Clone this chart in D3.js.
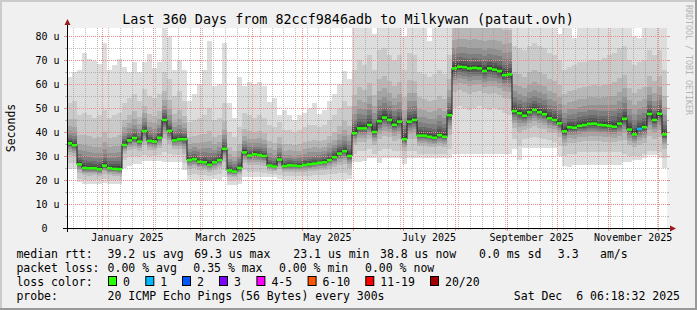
<!DOCTYPE html>
<html><head><meta charset="utf-8">
<script src="https://cdn.jsdelivr.net/npm/d3@7"></script>
<style>
html,body{margin:0;padding:0;background:#f0f0f0;}
svg{display:block;}
text{font-family:"DejaVu Sans Mono",monospace;white-space:pre;}
</style></head><body>
<svg id="c" width="697" height="310"></svg>
<script>
// ---------------- DATA ----------------
const titleText = "Last 360 Days from 82ccf9846adb to Milkywan (pataut.ovh)";
const startTime = "2024-12-11T06:18:32Z";
const spanDays = 360;
const stepDays = 3;            // one column = 3 days
const yMax = 250/3;            // 83.33 u at top of canvas

// median rtt per column (u = microseconds)
const median = [35.3,34.5,26.5,25.0,24.9,24.9,24.5,26.0,24.9,24.6,
 24.5,34.6,36.5,37.5,36.0,40.4,36.3,36.0,37.6,45.0,
 40.5,36.5,37.0,37.0,28.3,28.7,27.6,27.4,26.3,27.4,
 28.3,33.0,24.0,23.5,25.0,31.5,30.2,30.7,30.4,30.0,
 26.0,25.6,28.5,25.8,26.1,26.0,25.8,26.3,26.6,26.8,
 27.2,27.4,28.3,29.5,31.0,32.0,30.0,39.5,41.5,41.5,
 42.9,40.0,44.5,46.0,45.0,43.0,44.3,37.0,44.3,45.0,
 38.5,38.5,38.0,37.6,38.7,38.0,47.0,66.5,67.2,67.0,
 66.5,66.7,66.5,65.4,66.5,66.0,65.4,63.7,64.0,48.7,
 47.8,46.8,48.2,49.2,48.2,47.4,45.7,45.0,43.6,40.3,
 42.0,41.8,42.6,42.9,43.4,43.5,43.0,42.8,42.5,42.2,
 43.5,45.5,41.0,39.0,41.3,42.0,47.5,45.0,47.6,39.0];
// slowest ping (top of lightest smoke)
const pingMax = [63,65,66,73,70.5,69.5,68.5,77,66,68,
 70.5,67,65,69,65,69,72.5,66.5,69,84,
 80,66,70,66,53,56,60,66,78,59,
 60,77,52,46,63,59,61,60,61,59,
 52.5,54,47,49,47,45,47,48,50,52,
 47.5,49,53,56,60,65.5,62,90,90,90,
 90,81,90,90,90,90,90,80,90,90,
 90,90,78,90,90,90,90,90,90,90,
 90,90,90,90,90,90,90,90,90,90,
 90,90,90,90,90,90,90,90,81,90,
 90,79,90,90,90,90,90,90,90,90,
 90,90,90,80,79,90,90,90,90,90];
// second slowest ping
const pingHi = [52,53,47,48,47,46,47,49,46,47,
 48,52,54,56,53,58,55,54,56,65,
 62,55,57,53,44,45,46,47,50,45,
 46,52,40,38,42,48,47,46,47,46,
 43,42,44,41,41,40,41,42,43,43,
 42,43,45,47,50,53,51,66,70,68,
 72,66,74,75,72,70,72,66,73,72,
 65,64,63,64,66,64,72,95,95,95,
 95,95,95,95,95,95,95,95,95,76,
 75,74,76,77,76,75,73,72,70,66,
 67,68,69,69,70,70,70,71,72,73,
 75,76,70,68,69,70,74,72,74,66];
// second fastest ping
const pingLo = [27,27,20.5,20,19.8,20,19.8,20.3,20,19.8,
 19.8,28.5,29.5,30,29.5,30.5,30,30,30.5,31.5,
 31,30.5,30.5,27,22,22.5,22,22,21.5,22,
 22.5,24,19.5,19.5,20,24,23.5,23.5,23.5,23,
 22.5,22.5,22,21.5,21.5,21.5,21.5,21.5,21.8,22,
 22,22,22.3,22.5,23,23,22,31,32,32,
 33,31,32,33,33,32,32,29,32,32,
 31,31,31,31,31,31,33,50,51,50,
 49,50,51,50,49,50,49,48,47,37,
 34,37,37.5,38,37.5,37,36.5,36,34,30,
 31,31,31.5,31.5,31.5,31.5,31.5,31.5,31.5,31.5,
 31.5,31,30,30,30,31,32,32,31.5,29];
// fastest ping (bottom of lightest smoke)
const pingMin = [24.5,24.5,19,18.5,18.2,18.5,18.3,18.8,18.5,18.2,
 18.4,25,26,26.5,26.5,28,28,28,28,27.6,
 27.6,27.6,27.6,24,20,20,20.2,20,20,20.3,
 20,21.4,18,17.9,18.5,21.4,21.4,21.4,21.4,21.4,
 21.4,21.4,20.5,20,20,20,20,20,20,20,
 20,20,20,20,20,20.2,20.5,27.6,27.6,28,
 29,29,27,29,29,29,29,26.5,29,29,
 29,29,29,29,29,29,29,31,31,31,
 31,31,31,31,31,31,31,31,31,33,
 28.5,33.5,33.5,33.5,33.5,33.5,33.5,33.5,30,26,
 25.6,26.2,26.2,26.2,26.2,26.2,26.2,26.2,26.2,26.2,
 26.2,27.5,27.5,28.5,28.5,29,30.5,30.5,29,25];
// lost pings per column (of 20)
const lossPings = new Array(120).fill(0);
lossPings[114] = 1;

const lossLabels = ["0","1","2","3","4-5","6-10","11-19","20/20"];
const lossColors = ["#26ff00","#00b8ff","#0059ff","#7e00ff","#ff00ff","#ff5500","#ff0000","#a10000"];
const smokeGrays = [221,202,183,164,145,126,107,88,69,50];
// relative spread of inner smoke layers (share of the 2nd-ping band)
const smokeShape = [1,0.6,0.42,0.3,0.21,0.14,0.09,0.05,0.02];

const yTickValues = [0,10,20,30,40,50,60,70,80];
const yMinorValues = [5,15,25,35,45,55,65,75];
const xLabelMonths = ["2025-01","2025-03","2025-05","2025-07","2025-09","2025-11"];

const statRows = [
  ["median rtt:", ["39.2 us avg","69.3 us max","23.1 us min","38.8 us now","0.0 ms sd","3.3","am/s"]],
  ["packet loss:", ["0.00 % avg","0.35 % max","0.00 % min","0.00 % now"]]
];
const probeLabel = "probe:";
const probeText = "20 ICMP Echo Pings (56 Bytes) every 300s";
const dateText = "Sat Dec  6 06:18:32 2025";

// ---------------- LAYOUT ----------------
const W = 697, H = 310;
const X0 = 67, X1 = 667, Y0 = 228, Y1 = 28;
const statX = [[107.6,194.2,293.3,380,479,557.8,600],[107.6,193.3,279,365]];
const lossBoxX = [108,145.3,182,219,256.4,307.6,365.3,430];
const rowY = [258,272,286,300];

const DAY = 86400000;
const t0 = new Date(startTime);
const t1 = new Date(t0.getTime() + spanDays*DAY);
const colTime = k => new Date(t0.getTime() + k*stepDays*DAY);

const x = d3.scaleUtc().domain([t0,t1]).range([X0,X1]);
const y = d3.scaleLinear().domain([0,yMax]).range([Y0,Y1]);

const svg = d3.select("#c");
svg.append("rect").attr("width",W).attr("height",H).attr("fill","#f0f0f0");
// 3D frame
svg.append("rect").attr("x",0).attr("y",0).attr("width",W).attr("height",2).attr("fill","#cbcbcb");
svg.append("rect").attr("x",0).attr("y",0).attr("width",2).attr("height",H).attr("fill","#cbcbcb");
svg.append("rect").attr("x",W-2).attr("y",0).attr("width",2).attr("height",H).attr("fill","#999999");
svg.append("rect").attr("x",0).attr("y",H-2).attr("width",W).attr("height",2).attr("fill","#999999");

svg.append("rect").attr("x",X0).attr("y",Y1).attr("width",X1-X0).attr("height",Y0-Y1).attr("fill","#ffffff");
svg.append("defs").append("clipPath").attr("id","clip")
  .append("rect").attr("x",X0).attr("y",Y1).attr("width",X1-X0).attr("height",Y0-Y1);

// ---------------- SMOKE ----------------
const n = median.length;
const idx = d3.range(n+1);
const val = (arr,k) => arr[Math.min(k,n-1)];
const smokeG = svg.append("g").attr("clip-path","url(#clip)");
smokeGrays.forEach((g,L) => {
  const lowF = k => L===0 ? val(pingMin,k) : val(median,k) - (val(median,k)-val(pingLo,k))*smokeShape[L-1];
  const highF = k => L===0 ? val(pingMax,k) : val(median,k) + (val(pingHi,k)-val(median,k))*smokeShape[L-1];
  const area = d3.area().curve(d3.curveStepAfter)
    .x(k => x(colTime(k))).y0(k => y(lowF(k))).y1(k => y(highF(k)));
  smokeG.append("path").attr("d",area(idx)).attr("fill",d3.rgb(g,g,g).formatHex())
    .attr("shape-rendering","crispEdges");
});

// ---------------- GRID ----------------
const gridG = svg.append("g");
const minorCol = "rgba(140,140,140,0.55)", majorCol = "#ea8c8c";
const px = v => Math.round(v)+0.5;
d3.utcSunday.range(t0,t1).forEach(d => {
  const xx = px(x(d));
  gridG.append("line").attr("x1",xx).attr("x2",xx).attr("y1",Y1).attr("y2",Y0)
    .attr("stroke",minorCol).attr("stroke-dasharray","1,1");
  gridG.append("line").attr("x1",xx).attr("x2",xx).attr("y1",Y0).attr("y2",Y0+2).attr("stroke",minorCol);
});
yMinorValues.forEach(v => {
  const yy = px(y(v));
  gridG.append("line").attr("x1",X0).attr("x2",X1).attr("y1",yy).attr("y2",yy)
    .attr("stroke",minorCol).attr("stroke-dasharray","1,1");
  gridG.append("line").attr("x1",X0-2).attr("x2",X0).attr("y1",yy).attr("y2",yy).attr("stroke",minorCol);
  gridG.append("line").attr("x1",X1).attr("x2",X1+2).attr("y1",yy).attr("y2",yy).attr("stroke",minorCol);
});
d3.utcMonth.range(t0,t1).forEach(d => {
  const xx = px(x(d));
  gridG.append("line").attr("x1",xx).attr("x2",xx).attr("y1",Y1).attr("y2",Y0)
    .attr("stroke",majorCol).attr("stroke-dasharray","1,1");
  gridG.append("line").attr("x1",xx).attr("x2",xx).attr("y1",Y0).attr("y2",Y0+3).attr("stroke",majorCol);
});
yTickValues.filter(v => v>0).forEach(v => {
  const yy = px(y(v));
  gridG.append("line").attr("x1",X0).attr("x2",X1).attr("y1",yy).attr("y2",yy)
    .attr("stroke",majorCol).attr("stroke-dasharray","1,1");
  gridG.append("line").attr("x1",X0-3).attr("x2",X0).attr("y1",yy).attr("y2",yy).attr("stroke",majorCol);
  gridG.append("line").attr("x1",X1).attr("x2",X1+3).attr("y1",yy).attr("y2",yy).attr("stroke",majorCol);
});

// ---------------- MEDIAN ----------------
const medG = svg.append("g").attr("clip-path","url(#clip)");
const medLine = d3.line().curve(d3.curveStepAfter).x(k => x(colTime(k))).y(k => y(val(median,k)));
medG.append("path").attr("d",medLine(idx)).attr("fill","none").attr("stroke","#202020").attr("stroke-width",1);
const bucket = p => p===0?0:p===1?1:p===2?2:p===3?3:p<=5?4:p<=10?5:p<=19?6:7;
median.forEach((m,k) => {
  const xa = x(colTime(k)), xb = x(colTime(k+1));
  medG.append("rect").attr("x",xa).attr("width",xb-xa).attr("y",y(m)-1.3).attr("height",2.6)
    .attr("fill",lossColors[bucket(lossPings[k])]);
});

// ---------------- AXES ----------------
svg.append("line").attr("x1",X0-4).attr("x2",X1+4).attr("y1",Y0+0.5).attr("y2",Y0+0.5).attr("stroke","#000");
svg.append("line").attr("x1",X0+0.5).attr("x2",X0+0.5).attr("y1",Y0+4).attr("y2",Y1-4).attr("stroke","#000");
svg.append("path").attr("d",`M${X1+3},${Y0-2.5}L${X1+3},${Y0+3.5}L${X1+9},${Y0+0.5}Z`).attr("fill","#9b1c1c");
svg.append("path").attr("d",`M${X0-2.5},${Y1-3}L${X0+3.5},${Y1-3}L${X0+0.5},${Y1-9}Z`).attr("fill","#9b1c1c");

// y labels
const axisFont = 10, charW = axisFont*0.602;
yTickValues.forEach(v => {
  svg.append("text").attr("x",59.5 - (v===0?2*charW:0)).attr("y",y(v)+3.6)
    .attr("text-anchor","end").attr("font-size",axisFont).attr("fill","#000")
    .text(v===0 ? "0" : v+" u");
});
// x labels
xLabelMonths.forEach(m => {
  const a = new Date(m+"-01T00:00:00Z"), b = d3.utcMonth.offset(a,1);
  const mid = new Date((a.getTime()+b.getTime())/2);
  svg.append("text").attr("x",x(mid)).attr("y",241).attr("text-anchor","middle")
    .attr("font-size",axisFont).text(d3.utcFormat("%B %Y")(a));
});

// titles
svg.append("text").attr("x",348).attr("y",24).attr("text-anchor","middle").attr("font-size",13.4).text(titleText);
svg.append("text").attr("transform","translate(15,128) rotate(-90)").attr("text-anchor","middle")
  .attr("font-size",11.5).text("Seconds");
svg.append("text").attr("transform","translate(686,5) rotate(90)").attr("text-anchor","start")
  .attr("font-size",8.3).attr("fill","#b4b4b4").text("RRDTOOL / TOBI OETIKER");

// ---------------- LEGEND ----------------
const lf = 11.5;
statRows.forEach((row,r) => {
  svg.append("text").attr("x",16.4).attr("y",rowY[r]).attr("font-size",lf).text(row[0]);
  row[1].forEach((s,i) => svg.append("text").attr("x",statX[r][i]).attr("y",rowY[r]).attr("font-size",lf).text(s));
});
svg.append("text").attr("x",16.4).attr("y",rowY[2]).attr("font-size",lf).text("loss color:");
lossLabels.forEach((l,i) => {
  svg.append("rect").attr("x",lossBoxX[i]+0.5).attr("y",rowY[2]-9.5).attr("width",8).attr("height",9)
    .attr("fill",lossColors[i]).attr("stroke","#000").attr("stroke-width",1);
  svg.append("text").attr("x",lossBoxX[i]+15).attr("y",rowY[2]).attr("font-size",lf).text(l);
});
svg.append("text").attr("x",16.4).attr("y",rowY[3]).attr("font-size",lf).text(probeLabel);
svg.append("text").attr("x",107.6).attr("y",rowY[3]).attr("font-size",lf).text(probeText);
svg.append("text").attr("x",680).attr("y",rowY[3]).attr("text-anchor","end").attr("font-size",lf).text(dateText);
</script></body></html>
